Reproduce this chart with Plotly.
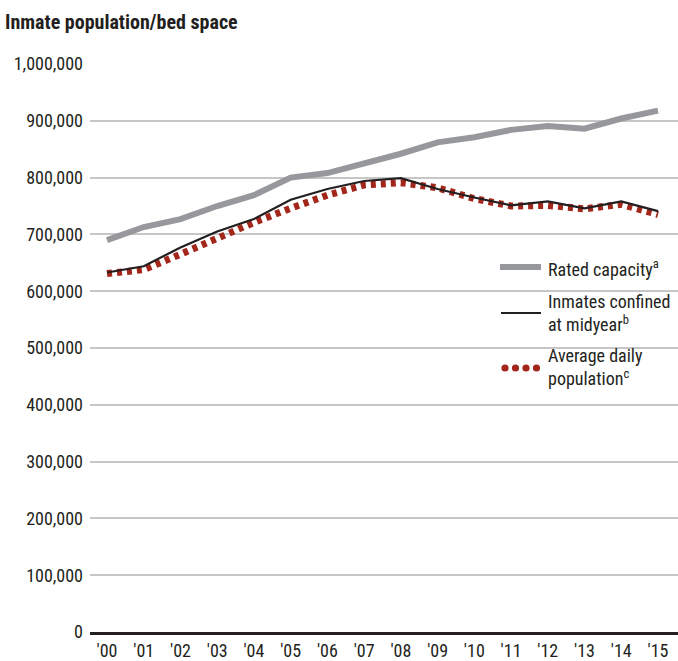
import plotly.graph_objects as go

years = list(range(2000, 2016))
year_labels = ["'00", "'01", "'02", "'03", "'04", "'05", "'06", "'07", "'08", "'09",
               "'10", "'11", "'12", "'13", "'14", "'15"]
rated_capacity = [690000, 713000, 727000, 750000, 769000, 800000, 808000, 824000,
                  842000, 862000, 871000, 884000, 891000, 886000, 904000, 918000]
midyear_inmates = [633000, 644000, 677000, 705000, 727000, 761000, 780000, 794000,
                   799000, 780000, 765000, 751000, 758000, 746000, 758000, 741000]
avg_daily_pop = [631000, 638000, 665000, 694000, 721000, 746000, 769000, 787000,
                 791000, 782000, 763000, 750000, 751000, 745000, 753000, 735000]
y_ticks = [0, 100000, 200000, 300000, 400000, 500000, 600000, 700000, 800000, 900000, 1000000]
y_tick_labels = ["0", "100,000", "200,000", "300,000", "400,000", "500,000",
                 "600,000", "700,000", "800,000", "900,000", "1,000,000"]

FONT = "Roboto Condensed, Liberation Sans Narrow, DejaVu Sans Condensed, sans-serif"
GRAY = "#97989c"
BLACK = "#231f20"
RED = "#a3261b"

W, H = 678, 661
L, R, T, B = 90, 0, 64, 29
PW, PH = W - L - R, H - T - B


def px(x):
    return (x - L) / PW


def py(y):
    return (H - B - y) / PH


fig = go.Figure()
fig.add_trace(go.Scatter(x=years, y=rated_capacity, mode="lines",
                         line=dict(color=GRAY, width=6), showlegend=False))
fig.add_trace(go.Scatter(x=years, y=avg_daily_pop, mode="lines",
                         line=dict(color=RED, width=7, dash="5px,5px"), showlegend=False))
fig.add_trace(go.Scatter(x=years, y=midyear_inmates, mode="lines",
                         line=dict(color=BLACK, width=2.2), showlegend=False))

# legend samples and labels
fig.add_shape(type="line", xref="paper", yref="paper", x0=px(500), x1=px(541), y0=py(267), y1=py(267),
              line=dict(color=GRAY, width=6))
fig.add_shape(type="line", xref="paper", yref="paper", x0=px(501), x1=px(541), y0=py(313), y1=py(313),
              line=dict(color=BLACK, width=2.2))
for i in range(4):
    cx = 505 + i * 10.5
    fig.add_shape(type="circle", xref="paper", yref="paper",
                  x0=px(cx - 3.6), x1=px(cx + 3.6), y0=py(368 + 3.6), y1=py(368 - 3.6),
                  line=dict(width=0), fillcolor=RED)

legend_texts = [
    ("Rated capacity<sup>a</sup>", 268),
    ("Inmates confined<br>at midyear<sup>b</sup>", 313),
    ("Average daily<br>population<sup>c</sup>", 367),
]
for txt, yy in legend_texts:
    fig.add_annotation(x=px(546), y=py(yy), xref="paper", yref="paper", text=txt, showarrow=False,
                       xanchor="left", yanchor="middle", align="left",
                       font=dict(family=FONT, size=18, color=BLACK))

fig.add_annotation(x=px(3), y=py(22), xref="paper", yref="paper",
                   text="<b>Inmate population/bed space</b>",
                   showarrow=False, xanchor="left", yanchor="middle",
                   font=dict(family=FONT, size=20, color=BLACK))

fig.update_layout(
    width=W, height=H,
    margin=dict(l=L, r=R, t=T, b=B),
    paper_bgcolor="white", plot_bgcolor="white",
    font=dict(family=FONT, size=18, color=BLACK),
    xaxis=dict(range=[1999.537, 2015.545], tickvals=years, ticktext=year_labels,
               showgrid=False, zeroline=False, showline=True, linecolor=BLACK, linewidth=3,
               ticks="", tickfont=dict(size=18), ticklabelstandoff=0),
    yaxis=dict(range=[0, 1000000], tickvals=y_ticks, ticktext=y_tick_labels,
               showgrid=True, gridcolor="#c6c6c6", gridwidth=1.5, zeroline=False,
               showline=False, ticks="", ticklabelstandoff=6, tickfont=dict(size=18)),
)

fig.write_html("out.html", config={"displayModeBar": False},
               post_script="document.body.style.margin='0';")
